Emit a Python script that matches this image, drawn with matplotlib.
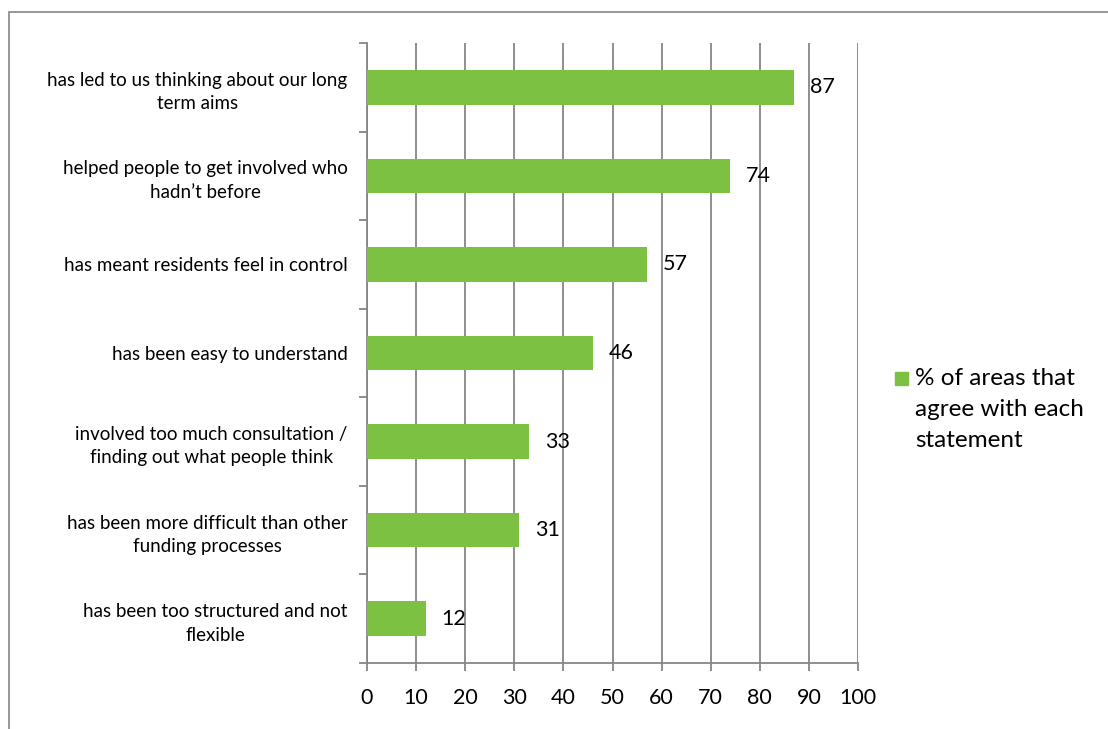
import matplotlib.pyplot as plt
import matplotlib.patches as mpatches
import numpy as np

# datos
categorias = [
    "has led to us thinking about our long\nterm aims",
    "helped people to get involved who\nhadn\u2019t before",
    "has meant residents feel in control",
    "has been easy to understand",
    "involved too much consultation /\nfinding out what people think",
    "has been more difficult than other\nfunding processes",
    "has been too structured and not\nflexible",
]
valores = [87, 74, 57, 46, 33, 31, 12]
serie = "% of areas that\nagree with each\nstatement"
ticks_x = list(range(0, 101, 10))

verde = '#7DC142'
gris = '#868686'

plt.rcParams['font.family'] = ['Lato', 'DejaVu Sans']

fig = plt.figure(figsize=(11.08, 7.29), dpi=100)
ax = fig.add_axes([0.3312, 0.0905, 0.4432, 0.8505])

y = np.arange(len(categorias))
ax.barh(y, valores, height=0.39, color=verde, zorder=3)

# etiquetas de datos
for yi, v in zip(y, valores):
    ax.text(v + 3.2, yi, str(v), va='center', ha='left', fontsize=15.5, zorder=4)

ax.set_xlim(0, 100)
ax.set_ylim(len(categorias) - 0.5, -0.5)
ax.set_xticks(ticks_x)
ax.set_xticklabels([str(t) for t in ticks_x], fontsize=15.5)
ax.set_yticks(y)
ax.set_yticklabels(categorias, fontsize=13.5, multialignment='center', linespacing=1.45)
ax.tick_params(axis='y', length=0, pad=14)
ax.tick_params(axis='x', length=6, color=gris, width=1.3, pad=12)

# marcas entre categorias
ax.set_yticks(np.arange(-0.5, len(categorias)), minor=True)
ax.tick_params(axis='y', which='minor', length=6, color=gris, width=1.3)

ax.grid(axis='x', color=gris, linewidth=1.3, zorder=0)
for s in ['top', 'right']:
    ax.spines[s].set_visible(False)
for s in ['left', 'bottom']:
    ax.spines[s].set_color(gris)
    ax.spines[s].set_linewidth(1.3)

# leyenda
fig.patches.append(mpatches.Rectangle((895 / 1108, 1 - 385 / 729), 13 / 1108, 13 / 729,
                                      transform=fig.transFigure, color=verde))
fig.text(915 / 1108, 1 - 368 / 729, serie, ha='left', va='top', fontsize=17.5,
         linespacing=1.6)

# borde del grafico
fig.patches.append(mpatches.Rectangle((9 / 1108, -0.01), 1.1, 1 - 12 / 729 + 0.01,
                                      transform=fig.transFigure, fill=False,
                                      edgecolor=gris, linewidth=1.2))

fig.savefig('out.png', dpi=100)
